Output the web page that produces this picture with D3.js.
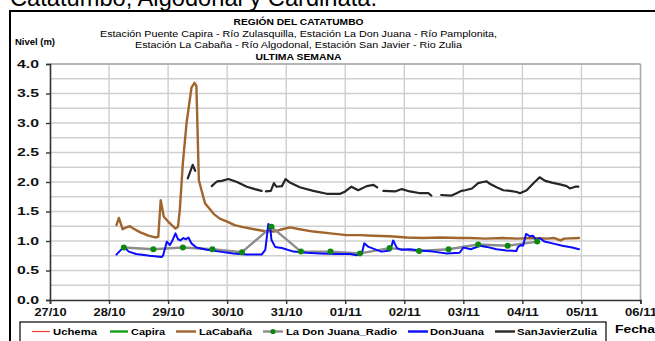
<!DOCTYPE html>
<html>
<head>
<meta charset="utf-8">
<script src="https://cdn.jsdelivr.net/npm/d3@7"></script>
<style>
  html, body { margin: 0; padding: 0; background: #fff; overflow: hidden; }
  svg { display: block; font-family: "Liberation Sans", Arial, sans-serif; }
</style>
</head>
<body>
<svg id="chart" width="655" height="341"></svg>
<script>
// ---- data -------------------------------------------------------------
const dayTicks = ["27/10 00:00", "28/10 00:00", "29/10 00:00", "30/10 00:00", "31/10 00:00",
  "01/11 00:00", "02/11 00:00", "03/11 00:00", "04/11 00:00", "05/11 00:00", "06/11 00:00"];
const levelTicks = [0, 0.5, 1, 1.5, 2, 2.5, 3, 3.5, 4];

const seriesNames = ["Uchema", "Capira", "LaCabaña", "La Don Juana_Radio", "DonJuana", "SanJavierZulia"];
const seriesColors = ["#ff3b3b", "#169b16", "#a0652d", "#8c8c8c", "#0a0aff", "#262626"];

// Estación La Cabaña - Río Algodonal
const laCabana = [
  ["28/10 03:00", 1.27], ["28/10 04:00", 1.39], ["28/10 05:30", 1.20], ["28/10 07:00", 1.23],
  ["28/10 08:30", 1.25], ["28/10 09:30", 1.22], ["28/10 12:30", 1.15], ["28/10 16:00", 1.09],
  ["28/10 18:45", 1.06], ["28/10 20:00", 1.07], ["28/10 21:00", 1.69], ["28/10 22:15", 1.41],
  ["29/10 00:00", 1.33], ["29/10 03:00", 1.21], ["29/10 04:00", 1.24], ["29/10 04:45", 1.52],
  ["29/10 06:00", 2.32], ["29/10 07:30", 3.00], ["29/10 09:30", 3.60], ["29/10 10:45", 3.68],
  ["29/10 11:30", 3.63], ["29/10 12:30", 2.03], ["29/10 15:00", 1.64], ["29/10 18:30", 1.46],
  ["29/10 21:00", 1.38], ["30/10 00:30", 1.32], ["30/10 03:00", 1.27], ["30/10 06:00", 1.24],
  ["30/10 11:00", 1.20], ["30/10 15:00", 1.17], ["30/10 19:00", 1.16], ["30/10 21:30", 1.19],
  ["31/10 01:30", 1.23], ["31/10 05:30", 1.20], ["31/10 11:00", 1.16], ["31/10 18:00", 1.13],
  ["01/11 00:30", 1.10], ["01/11 06:00", 1.10], ["01/11 11:30", 1.09], ["01/11 18:00", 1.08],
  ["02/11 01:00", 1.06], ["02/11 07:30", 1.05], ["02/11 15:00", 1.06], ["02/11 22:00", 1.05],
  ["03/11 02:30", 1.05], ["03/11 09:00", 1.04], ["03/11 16:00", 1.05], ["03/11 22:00", 1.04],
  ["04/11 04:00", 1.05], ["04/11 10:00", 1.04], ["04/11 13:00", 1.05], ["04/11 15:30", 1.01],
  ["04/11 17:00", 1.04], ["04/11 23:00", 1.05]
];

// Estación Puente / La Don Juana - radio reports
const donJuanaRadio = [
  ["28/10 06:00", 0.89], ["28/10 18:00", 0.86], ["29/10 06:00", 0.89], ["29/10 18:00", 0.86],
  ["30/10 06:00", 0.81], ["30/10 18:00", 1.24], ["31/10 06:00", 0.82], ["31/10 18:00", 0.82],
  ["01/11 06:00", 0.79], ["01/11 18:00", 0.88], ["02/11 06:00", 0.83], ["02/11 18:00", 0.86],
  ["03/11 06:00", 0.94], ["03/11 18:00", 0.92], ["04/11 06:00", 0.99]
];

// Estación La Don Juana - Río Pamplonita
const donJuana = [
  ["28/10 03:00", 0.77], ["28/10 06:00", 0.90], ["28/10 08:00", 0.82], ["28/10 11:00", 0.78],
  ["28/10 16:30", 0.75], ["28/10 21:30", 0.73], ["28/10 22:00", 0.76], ["28/10 23:30", 0.99],
  ["29/10 00:45", 0.93], ["29/10 02:00", 1.03], ["29/10 03:00", 1.13], ["29/10 04:00", 1.03],
  ["29/10 05:00", 1.01], ["29/10 06:15", 1.05], ["29/10 07:15", 1.03], ["29/10 08:15", 1.06],
  ["29/10 09:30", 0.96], ["29/10 11:30", 0.89], ["29/10 15:45", 0.85], ["29/10 21:00", 0.82],
  ["30/10 02:30", 0.79], ["30/10 08:00", 0.77], ["30/10 14:00", 0.77], ["30/10 15:30", 0.85],
  ["30/10 16:45", 1.29], ["30/10 17:30", 1.24], ["30/10 18:00", 1.02], ["30/10 19:30", 0.90],
  ["30/10 22:15", 0.88], ["31/10 03:00", 0.82], ["31/10 08:15", 0.80], ["31/10 13:45", 0.79],
  ["31/10 20:30", 0.78], ["01/11 02:00", 0.78], ["01/11 04:45", 0.76], ["01/11 06:45", 0.79],
  ["01/11 07:45", 0.96], ["01/11 09:30", 0.90], ["01/11 12:45", 0.85], ["01/11 14:45", 0.82],
  ["01/11 18:15", 0.84], ["01/11 19:30", 1.01], ["01/11 21:00", 0.88], ["01/11 23:00", 0.85],
  ["02/11 02:15", 0.86], ["02/11 06:30", 0.84], ["02/11 11:45", 0.82], ["02/11 17:15", 0.79],
  ["02/11 22:30", 0.80], ["03/11 00:00", 0.89], ["03/11 03:00", 0.86], ["03/11 06:45", 0.92],
  ["03/11 09:30", 0.90], ["03/11 13:30", 0.86], ["03/11 17:30", 0.84], ["03/11 21:30", 0.83],
  ["03/11 22:15", 0.90], ["03/11 23:30", 0.93], ["04/11 00:15", 0.92], ["04/11 01:30", 1.12],
  ["04/11 03:00", 1.08], ["04/11 04:15", 1.09], ["04/11 05:30", 1.02], ["04/11 07:00", 1.05],
  ["04/11 09:00", 0.99], ["04/11 12:15", 0.96], ["04/11 16:15", 0.92], ["04/11 20:15", 0.89],
  ["04/11 23:00", 0.86]
];

// Estación San Javier - Río Zulia (null marks a gap in the record)
const sanJavierZulia = [
  ["29/10 08:00", 2.06], ["29/10 10:00", 2.29], ["29/10 11:00", 2.19], ["29/10 14:00", null],
  ["29/10 17:45", 1.93], ["29/10 19:00", 1.98], ["29/10 20:00", 2.01], ["29/10 21:45", 2.02],
  ["30/10 00:30", 2.05], ["30/10 04:00", 2.00], ["30/10 08:00", 1.92], ["30/10 11:15", 1.88],
  ["30/10 14:00", 1.85], ["30/10 15:00", null],
  ["30/10 15:45", 1.84], ["30/10 17:45", 1.85], ["30/10 19:00", 1.98], ["30/10 20:00", 1.92],
  ["30/10 22:15", 1.93], ["30/10 23:45", 2.05], ["31/10 01:30", 1.99], ["31/10 05:30", 1.91],
  ["31/10 11:00", 1.85], ["31/10 16:30", 1.80], ["31/10 22:00", 1.80], ["01/11 00:00", 1.84],
  ["01/11 02:30", 1.92], ["01/11 05:15", 1.86], ["01/11 08:45", 1.93], ["01/11 11:30", 1.95],
  ["01/11 13:00", 1.91], ["01/11 14:00", null],
  ["01/11 15:30", 1.85], ["01/11 20:15", 1.84], ["01/11 23:00", 1.88], ["02/11 02:15", 1.84],
  ["02/11 06:30", 1.81], ["02/11 09:45", 1.81], ["02/11 11:00", 1.77], ["02/11 13:00", null],
  ["02/11 15:00", 1.78], ["02/11 19:15", 1.77], ["02/11 21:15", 1.81], ["02/11 23:15", 1.85],
  ["03/11 00:45", 1.86], ["03/11 03:30", 1.89], ["03/11 06:00", 1.98], ["03/11 08:00", 2.00],
  ["03/11 09:30", 2.01], ["03/11 10:45", 1.97], ["03/11 13:30", 1.91], ["03/11 16:15", 1.86],
  ["03/11 19:00", 1.85], ["03/11 21:45", 1.83], ["03/11 23:00", 1.81], ["04/11 01:45", 1.86],
  ["04/11 04:30", 1.98], ["04/11 07:00", 2.08], ["04/11 09:15", 2.02], ["04/11 12:00", 1.99],
  ["04/11 15:15", 1.96], ["04/11 18:00", 1.93], ["04/11 19:15", 1.89], ["04/11 21:30", 1.92],
  ["04/11 22:45", 1.92]
];

// ---- layout -----------------------------------------------------------
const svg = d3.select("#chart");
const parse = d3.timeParse("%d/%m %H:%M");
const plot = { left: 50, right: 640.5, top: 64, bottom: 300 };

const x = d3.scaleTime()
  .domain([parse(dayTicks[0]), parse(dayTicks[dayTicks.length - 1])])
  .range([plot.left, plot.right]);
const y = d3.scaleLinear().domain([0, 4]).range([plot.bottom, plot.top]);

// page heading above the chart frame (partly outside the window)
svg.append("text")
  .attr("x", 10).attr("y", 6)
  .attr("font-size", 23).attr("fill", "#000")
  .attr("textLength", 367).attr("lengthAdjust", "spacingAndGlyphs")
  .text("Catatumbo, Algodonal y Cardinata.");

// chart frame
svg.append("rect")
  .attr("x", 10).attr("y", 11).attr("width", 700).attr("height", 400)
  .attr("fill", "#fff").attr("stroke", "#000").attr("stroke-width", 2);

// titles
const titles = [
  { t: "REGIÓN DEL CATATUMBO", y: 25, w: 130, bold: true },
  { t: "Estación Puente Capira - Río Zulasquilla, Estación La Don Juana - Río Pamplonita,", y: 37, w: 397, bold: false },
  { t: "Estación La Cabaña - Río Algodonal, Estación San Javier - Rio Zulia", y: 48, w: 327, bold: false },
  { t: "ULTIMA SEMANA", y: 60, w: 86, bold: true }
];
svg.append("g").selectAll("text").data(titles).join("text")
  .attr("x", 298.5).attr("y", d => d.y)
  .attr("text-anchor", "middle")
  .attr("font-size", 9.6)
  .attr("font-weight", d => d.bold ? "bold" : "normal")
  .attr("textLength", d => d.w).attr("lengthAdjust", "spacingAndGlyphs")
  .text(d => d.t);

svg.append("text")
  .attr("x", 15).attr("y", 44.5)
  .attr("font-size", 9.6).attr("font-weight", "bold")
  .attr("textLength", 40).attr("lengthAdjust", "spacingAndGlyphs")
  .text("Nivel (m)");

// grid
const grid = svg.append("g").attr("stroke", "#cfcfcf").attr("stroke-width", 1.4);
grid.selectAll("line.h").data(d3.range(0.25, 4.001, 0.25)).join("line")
  .attr("x1", plot.left).attr("x2", plot.right)
  .attr("y1", d => y(d)).attr("y2", d => y(d));
grid.selectAll("line.v").data(dayTicks.slice(1)).join("line")
  .attr("x1", d => x(parse(d))).attr("x2", d => x(parse(d)))
  .attr("y1", plot.top).attr("y2", plot.bottom);
grid.append("line").attr("stroke", "#a8a8a8")
  .attr("x1", plot.left).attr("x2", plot.right).attr("y1", plot.top).attr("y2", plot.top);
grid.append("line").attr("stroke", "#a8a8a8")
  .attr("x1", plot.right).attr("x2", plot.right).attr("y1", plot.top).attr("y2", plot.bottom);

// axes
const xAxis = svg.append("g")
  .attr("transform", `translate(0,${plot.bottom})`)
  .call(d3.axisBottom(x).tickValues(dayTicks.map(parse))
    .tickFormat(d3.timeFormat("%d/%m")).tickSize(4).tickPadding(5));
const yAxis = svg.append("g")
  .attr("transform", `translate(${plot.left},0)`)
  .call(d3.axisLeft(y).tickValues(levelTicks)
    .tickFormat(d3.format(".1f")).tickSize(4).tickPadding(7));
[xAxis, yAxis].forEach(g => {
  g.select(".domain").attr("stroke", "#333").attr("stroke-width", 1.6);
  g.selectAll(".tick line").attr("stroke", "#333").attr("stroke-width", 1.4);
  g.selectAll(".tick text")
    .attr("font-family", "Liberation Sans, Arial, sans-serif")
    .attr("font-size", 10).attr("font-weight", "bold").attr("fill", "#111")
    .attr("lengthAdjust", "spacingAndGlyphs");
});
xAxis.selectAll(".tick text").attr("textLength", 32);
yAxis.selectAll(".tick text").attr("textLength", 22);

// series
const line = d3.line()
  .defined(d => d[1] !== null)
  .x(d => x(parse(d[0])))
  .y(d => y(d[1]));

const marks = svg.append("g").attr("fill", "none")
  .attr("stroke-linejoin", "round").attr("stroke-linecap", "round");
marks.append("path").datum(laCabana).attr("d", line)
  .attr("stroke", seriesColors[2]).attr("stroke-width", 2.4);
marks.append("path").datum(donJuanaRadio).attr("d", line)
  .attr("stroke", seriesColors[3]).attr("stroke-width", 2.4);
svg.append("g").selectAll("circle").data(donJuanaRadio).join("circle")
  .attr("cx", d => x(parse(d[0]))).attr("cy", d => y(d[1]))
  .attr("r", 3).attr("fill", "#0d8a0d");
marks.append("path").datum(donJuana).attr("d", line)
  .attr("stroke", seriesColors[4]).attr("stroke-width", 2);
marks.append("path").datum(sanJavierZulia).attr("d", line)
  .attr("stroke", seriesColors[5]).attr("stroke-width", 2.2);

// legend
svg.append("rect")
  .attr("x", 20).attr("y", 322).attr("width", 586).attr("height", 30)
  .attr("fill", "#fff").attr("stroke", "#000").attr("stroke-width", 1.2);
const legendItems = [
  { x1: 32, x2: 50, tx: 53, tw: 44 },
  { x1: 110, x2: 128, tx: 131, tw: 34 },
  { x1: 176, x2: 196, tx: 199, tw: 53 },
  { x1: 263, x2: 283, tx: 286, tw: 111, dot: true },
  { x1: 408, x2: 428, tx: 430, tw: 54 },
  { x1: 495, x2: 515, tx: 517, tw: 80 }
];
const lg = svg.append("g").selectAll("g").data(legendItems).join("g");
lg.append("line")
  .attr("x1", d => d.x1).attr("x2", d => d.x2).attr("y1", 331.5).attr("y2", 331.5)
  .attr("stroke", (d, i) => seriesColors[i]).attr("stroke-width", (d, i) => i === 0 ? 1.2 : 2.4);
lg.filter(d => d.dot).append("circle")
  .attr("cx", d => (d.x1 + d.x2) / 2).attr("cy", 331.5).attr("r", 2.6).attr("fill", "#0d8a0d");
lg.append("text")
  .attr("x", d => d.tx).attr("y", 335)
  .attr("font-size", 9.6).attr("font-weight", "bold")
  .attr("textLength", d => d.tw).attr("lengthAdjust", "spacingAndGlyphs")
  .text((d, i) => seriesNames[i]);

svg.append("text")
  .attr("x", 615).attr("y", 333)
  .attr("font-size", 10).attr("font-weight", "bold")
  .attr("textLength", 40).attr("lengthAdjust", "spacingAndGlyphs")
  .text("Fecha");
</script>
</body>
</html>
